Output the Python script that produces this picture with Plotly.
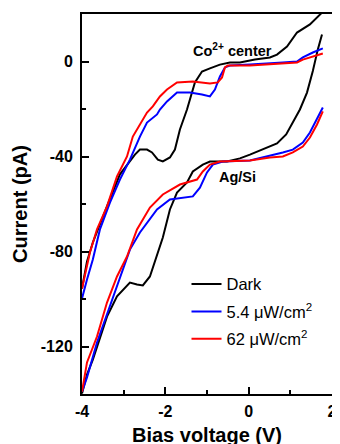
import plotly.graph_objects as go

# ---- data (Bias voltage V, Current pA) ----
dark_lower_v = [-4.00, -3.88, -3.74, -3.57, -3.40, -3.16, -2.97, -2.85, -2.68, -2.54, -2.37, -2.20, -2.06, -1.89, -1.72, -1.48, -1.34, -1.10, -0.93, -0.52, -0.21, 0.03, 0.34, 0.68, 0.90, 1.06, 1.23, 1.40, 1.54, 1.66, 1.76]
dark_lower_i = [-139.8, -131.8, -125.5, -116.2, -107.4, -98.9, -95.2, -93.1, -93.9, -94.3, -90.5, -81.7, -74.1, -62.3, -55.2, -50.9, -46.3, -43.4, -42.1, -42.1, -40.8, -39.2, -37.1, -34.5, -30.7, -25.7, -20.2, -13.1, -4.0, 5.1, 11.4]
dark_upper_v = [1.76, 1.47, 1.16, 0.92, 0.68, 0.51, 0.15, -0.21, -0.45, -0.69, -0.93, -1.12, -1.29, -1.48, -1.65, -1.77, -1.89, -2.06, -2.18, -2.32, -2.44, -2.61, -2.73, -2.85, -3.09, -3.40, -3.57, -3.74, -3.88, -4.00]
dark_upper_i = [20.6, 15.6, 12.2, 6.3, 2.9, 1.7, 0.8, -0.4, -0.4, -1.3, -2.9, -4.2, -8.8, -20.2, -28.6, -37.1, -40.4, -42.1, -41.3, -38.3, -37.1, -37.1, -39.2, -42.1, -47.5, -61.0, -68.6, -76.2, -84.2, -95.6]

blue_lower_v = [-4.00, -3.88, -3.64, -3.33, -3.02, -2.85, -2.61, -2.20, -1.89, -1.48, -1.34, -1.17, -1.00, -0.86, -0.62, 0.03, 0.51, 0.82, 1.06, 1.30, 1.47, 1.64, 1.78]
blue_lower_i = [-139.0, -133.0, -118.3, -103.2, -87.6, -79.2, -72.0, -62.3, -58.1, -57.3, -56.8, -53.1, -46.7, -43.4, -42.1, -41.7, -39.8, -38.3, -37.1, -34.1, -29.9, -24.4, -19.4]
blue_upper_v = [1.78, 1.54, 1.30, 1.16, 0.82, 0.51, 0.03, -0.45, -0.57, -0.69, -0.81, -0.93, -1.12, -1.41, -1.72, -1.96, -2.13, -2.20, -2.44, -2.61, -2.85, -3.09, -3.33, -3.57, -3.74, -3.88, -4.00]
blue_upper_i = [5.5, 3.8, 1.7, 0.0, -0.4, -0.8, -1.3, -1.7, -2.5, -6.3, -11.8, -14.7, -13.9, -13.1, -13.1, -16.8, -20.2, -22.3, -25.7, -31.6, -41.3, -49.7, -59.4, -70.7, -83.4, -91.8, -99.8]

red_lower_v = [-4.00, -3.88, -3.64, -3.40, -3.16, -2.92, -2.68, -2.37, -2.06, -1.65, -1.24, -1.10, -0.93, -0.69, 0.03, 0.51, 0.82, 1.06, 1.30, 1.47, 1.64, 1.78]
red_lower_i = [-139.0, -126.7, -115.8, -101.5, -90.5, -82.1, -70.7, -61.5, -56.0, -51.8, -49.7, -46.3, -43.4, -42.1, -41.7, -40.4, -40.0, -38.3, -35.8, -32.0, -26.5, -21.0]
red_upper_v = [1.78, 1.54, 1.30, 1.16, 0.82, 0.51, 0.03, -0.50, -0.57, -0.64, -0.74, -0.93, -1.34, -1.72, -1.96, -2.13, -2.30, -2.44, -2.61, -2.78, -2.92, -3.16, -3.40, -3.64, -3.81, -4.00]
red_upper_i = [3.4, 2.1, 0.8, -0.4, -0.8, -1.3, -1.7, -1.7, -2.5, -6.7, -8.8, -9.3, -8.4, -8.8, -11.8, -14.7, -18.9, -21.5, -26.5, -31.6, -40.0, -48.4, -61.0, -70.7, -80.4, -95.6]

series_names = ["Dark", "5.4 \u03bcW/cm<sup>2</sup>", "62 \u03bcW/cm<sup>2</sup>"]
series_colors = ["#000000", "#0000ff", "#ff0000"]

x_ticks = [-4, -2, 0, 2]
y_ticks = [-120, -80, -40, 0]

FONT = "Arial, Liberation Sans, sans-serif"

fig = go.Figure()
loops = [
    (dark_lower_v, dark_lower_i, dark_upper_v, dark_upper_i),
    (blue_lower_v, blue_lower_i, blue_upper_v, blue_upper_i),
    (red_lower_v, red_lower_i, red_upper_v, red_upper_i),
]
for k, (lv, li, uv, ui) in enumerate(loops):
    fig.add_trace(go.Scatter(
        x=lv + [None] + uv,
        y=li + [None] + ui,
        mode="lines",
        name=series_names[k],
        legendgroup=f"g{k}",
        line=dict(color=series_colors[k], width=2),
        connectgaps=False,
    ))

fig.add_annotation(x=-0.4, y=5, text="<b>Co<sup>2+</sup> center</b>", showarrow=False,
                   font=dict(family=FONT, size=14.5, color="black"))
fig.add_annotation(x=-0.26, y=-48.8, text="<b>Ag/Si</b>", showarrow=False,
                   font=dict(family=FONT, size=14.5, color="black"))

axis_common = dict(
    showline=True, linecolor="black", linewidth=2, mirror=True,
    ticks="inside", ticklen=7, tickwidth=2, tickcolor="black",
    showgrid=False, zeroline=False,
    tickfont=dict(family=FONT, size=16, color="black", weight="bold"),
)

fig.update_xaxes(range=[-4, 2], tickvals=x_ticks, ticktext=[str(t) for t in x_ticks],
                 minor=dict(ticks="inside", ticklen=4, tickwidth=2, tickcolor="black", dtick=1, tick0=0),
                 title=dict(text="<b>Bias voltage (V)</b>", font=dict(family=FONT, size=20, color="black"), standoff=9),
                 ticklabelstandoff=2,
                 **axis_common)
fig.update_yaxes(range=[-140, 20], tickvals=y_ticks, ticktext=[str(t) for t in y_ticks],
                 minor=dict(ticks="inside", ticklen=4, tickwidth=2, tickcolor="black", dtick=20, tick0=0),
                 title=dict(text="<b>Current (pA)</b>", font=dict(family=FONT, size=20, color="black"), standoff=8),
                 ticklabelstandoff=4,
                 **axis_common)

# The page body adds an 8px offset; margins compensate so the frame sits where the reference has it.
fig.update_layout(
    width=340, height=444,
    margin=dict(l=74, r=16, t=6, b=58, autoexpand=False),
    paper_bgcolor="white", plot_bgcolor="white",
    showlegend=True,
    legend=dict(x=0.418, y=0.335, xanchor="left", yanchor="top",
                bgcolor="rgba(0,0,0,0)", borderwidth=0,
                font=dict(family=FONT, size=16.5, color="black"),
                tracegroupgap=3, traceorder="grouped"),
)

fig.write_html("out.html")
